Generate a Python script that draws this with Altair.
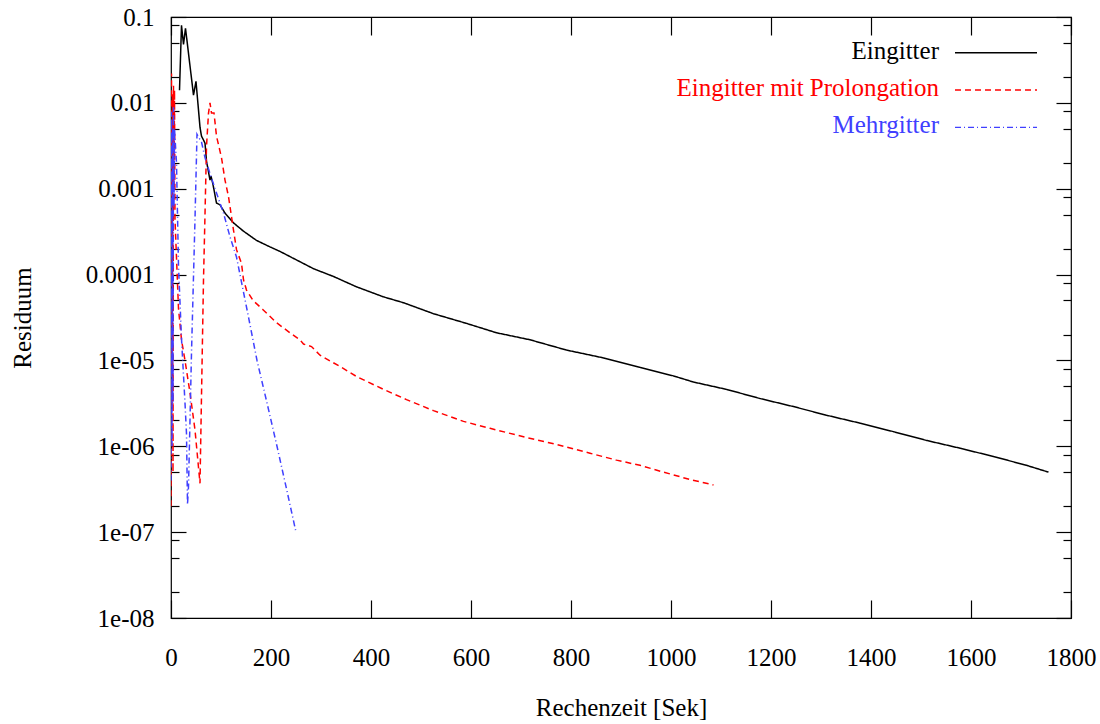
import altair as alt
import pandas as pd

FONT = "Liberation Serif"
FS = 25

series_names = ["Eingitter", "Eingitter mit Prolongation", "Mehrgitter"]
series_colors = ["#000000", "#ff0000", "#4040ff"]
series_dashes = [[1, 0], [6, 4], [6, 3, 1, 3]]
series_widths = [1.5, 1.5, 1.3]

eingitter_t = [17, 21, 25, 29, 45, 50, 58, 61, 68, 71, 78, 80, 84, 91, 98, 108,
               125, 145, 171, 198, 218, 238, 285, 325, 371, 425, 465, 525, 591,
               651, 718, 791, 865, 938, 1005, 1045, 1111, 1178, 1245, 1311, 1378,
               1445, 1511, 1578, 1645, 1711, 1755]
eingitter_r = [1.4e-2, 8.0e-2, 4.8e-2, 7.4e-2, 1.23e-2, 1.78e-2, 5.2e-3, 4.1e-3,
               3.4e-3, 2.1e-3, 1.26e-3, 1.4e-3, 1.12e-3, 6.8e-4, 6.5e-4, 5.2e-4,
               4.0e-4, 3.2e-4, 2.5e-4, 2.1e-4, 1.86e-4, 1.62e-4, 1.17e-4, 9.5e-5,
               7.2e-5, 5.5e-5, 4.7e-5, 3.5e-5, 2.7e-5, 2.1e-5, 1.74e-5, 1.32e-5,
               1.07e-5, 8.3e-6, 6.6e-6, 5.6e-6, 4.6e-6, 3.6e-6, 2.9e-6, 2.3e-6,
               1.86e-6, 1.48e-6, 1.17e-6, 9.5e-7, 7.6e-7, 6.0e-7, 5.0e-7]

prolong_t = [0, 1, 2, 3, 4, 5, 6, 7, 8, 15, 21, 28, 38, 48, 58, 65, 68, 71, 75,
             78, 81, 86, 91, 101, 108, 115, 125, 131, 141, 145, 151, 164, 184,
             211, 238, 258, 265, 281, 298, 338, 371, 425, 471, 525, 585, 638,
             705, 771, 838, 891, 938, 985, 1038, 1085]
prolong_r = [2.0e-7, 2.2e-2, 3.2e-6, 1.26e-2, 5.0e-7, 1.58e-2, 1.0e-3, 1.4e-2,
             4.4e-4, 4.0e-5, 1.74e-5, 1.0e-5, 4.2e-6, 1.55e-6, 3.7e-7, 8.7e-5,
             5.0e-4, 3.1e-3, 7.6e-3, 1.0e-2, 7.6e-3, 7.6e-3, 4.1e-3, 2.3e-3,
             1.26e-3, 8.1e-4, 3.3e-4, 1.95e-4, 1.35e-4, 8.7e-5, 6.6e-5, 5.0e-5,
             3.9e-5, 2.75e-5, 2.1e-5, 1.74e-5, 1.55e-5, 1.45e-5, 1.15e-5, 8.5e-6,
             6.5e-6, 4.6e-6, 3.5e-6, 2.6e-6, 1.95e-6, 1.62e-6, 1.29e-6, 1.05e-6,
             8.3e-7, 6.9e-7, 6.0e-7, 5.0e-7, 4.1e-7, 3.55e-7]

mehr_t = [0, 1, 2, 3, 4, 5, 6, 7, 11, 15, 21, 28, 31, 33, 35, 38, 41, 48, 52,
          55, 61, 68, 78, 91, 105, 118, 131, 138, 155, 172, 192, 212, 231, 250]
mehr_r = [4.0e-7, 7.9e-3, 1.0e-6, 5.0e-3, 3.2e-6, 8.9e-3, 6.3e-4, 5.0e-3, 2.0e-3,
          1.26e-4, 1.8e-5, 3.2e-6, 1.4e-6, 2.1e-7, 3.4e-7, 2.0e-6, 1.23e-5,
          4.4e-4, 4.3e-3, 4.0e-3, 3.5e-3, 2.3e-3, 1.5e-3, 8.9e-4, 5.2e-4,
          2.75e-4, 1.6e-4, 1.0e-4, 3.2e-5, 1.0e-5, 3.2e-6, 1.0e-6, 3.2e-7, 1.0e-7]

x_tick_values = [0, 200, 400, 600, 800, 1000, 1200, 1400, 1600, 1800]
y_major_values = [1e-8, 1e-7, 1e-6, 1e-5, 1e-4, 1e-3, 1e-2, 1e-1]
minor_multipliers = [2, 5, 8]
y_minor_values = [m * d for d in y_major_values[:-1] for m in minor_multipliers]

frames = []
for name, ts, rs in [(series_names[0], eingitter_t, eingitter_r),
                     (series_names[1], prolong_t, prolong_r),
                     (series_names[2], mehr_t, mehr_r)]:
    frames.append(pd.DataFrame({"series": name, "t": ts, "r": rs}))
df = pd.concat(frames, ignore_index=True)

W, H = 900, 601

x_scale = alt.Scale(domain=[0, 1800], nice=False, zero=False)
y_scale = alt.Scale(type="log", domain=[1e-8, 0.1], nice=False)

label_expr = ("datum.value >= 0.00009 ? format(datum.value, '.4~f') : "
              "'1e-0' + round(-log(datum.value) / LN10)")

x_label_axis = alt.Axis(orient="bottom", values=x_tick_values, tickSize=0, domain=False,
                        grid=False, format="d", labelFont=FONT, labelFontSize=FS,
                        labelColor="black", labelPadding=27, labelFlush=False,
                        labelOverlap=False,
                        title="Rechenzeit [Sek]", titleFont=FONT, titleFontSize=FS,
                        titleFontWeight="normal", titleColor="black", titleX=450,
                        titleY=97, titleBaseline="alphabetic", titleAlign="center")
y_label_axis = alt.Axis(orient="left", values=y_major_values, tickSize=0, domain=False,
                        grid=False, labelFont=FONT, labelFontSize=FS, labelColor="black",
                        labelPadding=17, labelFlush=False, labelOverlap=False,
                        labelBaseline="middle", labelExpr=label_expr,
                        title="Residuum", titleFont=FONT, titleFontSize=FS,
                        titleFontWeight="normal", titleColor="black", titleAngle=270,
                        titleX=-141, titleY=300.5, titleBaseline="alphabetic",
                        titleAlign="center")


def tick_axis(orient, values, size):
    return alt.Axis(orient=orient, values=values, tickSize=size, offset=-size,
                    domain=False, labels=False, grid=False, title="",
                    tickColor="black", tickWidth=1.2)


lines = alt.Chart(df).mark_line(strokeWidth=1.5, clip=True).encode(
    x=alt.X("t:Q", scale=x_scale, axis=x_label_axis),
    y=alt.Y("r:Q", scale=y_scale, axis=y_label_axis),
    color=alt.Color("series:N", scale=alt.Scale(domain=series_names, range=series_colors),
                    legend=None),
    strokeDash=alt.StrokeDash("series:N",
                              scale=alt.Scale(domain=series_names, range=series_dashes),
                              legend=None),
    order=alt.Order("t:Q"),
)


def hidden(x_axis, y_axis):
    return alt.Chart(df).mark_line(opacity=0).encode(
        x=alt.X("t:Q", scale=x_scale, axis=x_axis),
        y=alt.Y("r:Q", scale=y_scale, axis=y_axis),
        detail="series:N",
    )


h1 = hidden(tick_axis("bottom", x_tick_values, 18), tick_axis("left", y_major_values, 15))
h2 = hidden(tick_axis("top", x_tick_values, 18), tick_axis("left", y_minor_values, 8))
h3 = hidden(None, tick_axis("right", y_major_values, 15))
h4 = hidden(None, tick_axis("right", y_minor_values, 8))

# key (legend) in the upper right, gnuplot style: label then line sample
legend_text_x = 768
legend_line_x = (784, 866)
legend_text_y = [41.5, 78.5, 116]
legend_line_y = [35.7, 73, 110.3]

legend_layers = []
for i, name in enumerate(series_names):
    ldf = pd.DataFrame({"label": [name]})
    legend_layers.append(
        alt.Chart(ldf).mark_text(align="right", baseline="alphabetic", font=FONT,
                                 fontSize=FS, color=series_colors[i]).encode(
            x=alt.value(legend_text_x), y=alt.value(legend_text_y[i]), text="label:N")
    )
    legend_layers.append(
        alt.Chart(ldf).mark_rule(color=series_colors[i], strokeDash=series_dashes[i],
                                 strokeWidth=series_widths[i]).encode(
            x=alt.value(legend_line_x[0]), x2=alt.value(legend_line_x[1]),
            y=alt.value(legend_line_y[i]))
    )

chart = alt.layer(lines, h1, h2, h3, h4, *legend_layers).resolve_axis(
    x="independent", y="independent"
).properties(
    width=W, height=H,
    autosize=alt.AutoSizeParams(type="none"),
    padding={"left": 171, "top": 17, "right": 29, "bottom": 106},
    background="white",
).configure_view(stroke="black", strokeWidth=1.2).configure_text(font=FONT)

chart.save("out.html", embed_options={"renderer": "svg", "actions": False})
